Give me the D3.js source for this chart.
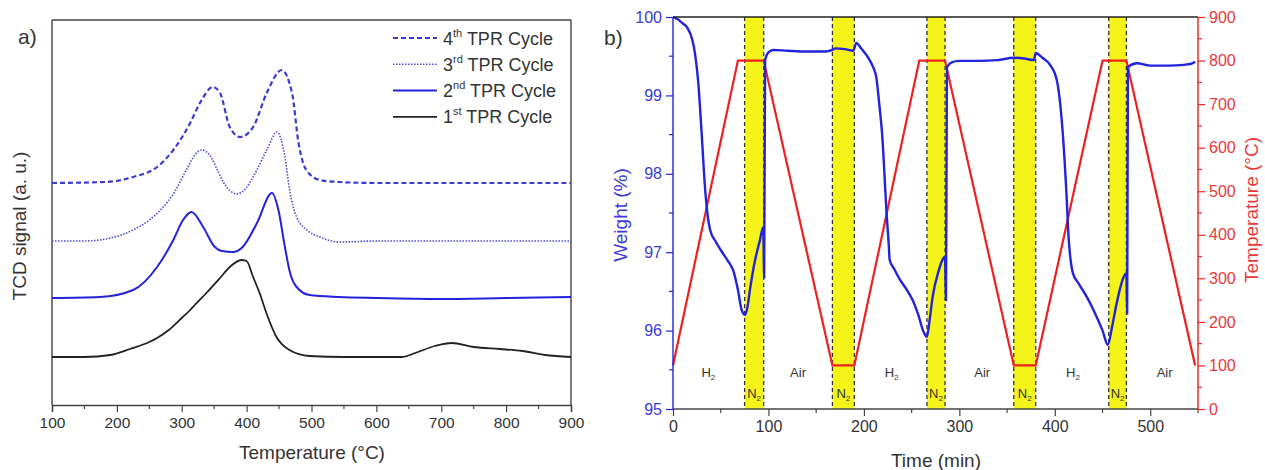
<!DOCTYPE html>
<html>
<head>
<meta charset="utf-8">
<script src="https://cdn.jsdelivr.net/npm/d3@7"></script>
<style>
  body { margin: 0; background: #fff; }
  text { font-family: "Liberation Sans", Arial, sans-serif; }
</style>
</head>
<body>
<div id="chart"></div>
<script>
// ---------- panel a data: TPR cycles (signal in arbitrary units) ----------
const tprTemps1 = [100,150,190,220,250,262,280,300,313,320,338,359,374,392,400,410,420,431,446,466,497,550,600,640,660,690,716,750,790,825,860,900];
const tprSignal1 = [48,48,50,56,63,67,75,87,95,100,112,127,138,145,144,128,112,91,68,55,49,48,48,48,52,59,62,58,56,54,50,48];

const tprTemps2 = [100,174,225,262,287,302,315,333,351,362,379,394,416,439,449,459,467,477,497,543,600,700,800,900];
const tprSignal2 = [107,108,115,138,165,185,193,178,158,154,153,158,182,212,195,158,132,118,110,108,107,106,107,108];

const tprTemps3 = [100,150,190,225,250,270,287,307,320,331,345,355,365,375,385,398,410,431,447,459,467,477,493,513,543,600,700,800,900];
const tprSignal3 = [164,164,167,175,185,197,211,235,250,255,248,235,222,214,211,216,228,255,273,248,212,188,175,168,163,164,164,164,164];

const tprTemps4 = [100,182,225,262,287,313,328,348,359,374,390,410,431,454,470,480,492,513,543,600,700,800,900];
const tprSignal4 = [222,223,228,238,255,282,302,318,312,278,268,278,312,335,312,262,235,225,223,222,222,222,222];

const cycleNames = ["4th TPR Cycle", "3rd TPR Cycle", "2nd TPR Cycle", "1st TPR Cycle"];

// ---------- panel b data: TGA weight and temperature programme ----------
const weightTime = [0,5,10,14.6,20,23,26.5,30,33.5,36,39,45,52,58,63,68,72,75.5,78,80.6,86,91,94.5,95.5,96.5,100,105,120,140,160,167,170,180,189,192,197,206,210,213,216,219,224,226,227,232,237.7,245,251,257,262,266,269,272,278,285,286,287,292,300,320,340,357,368,378,380,387,395,402,407,412.5,414,419,425,433.5,444,450,455.5,460,464,468,475,475.8,476.6,486,500,520,535,542,547];
const weightPct = [100,99.97,99.92,99.87,99.72,99.54,99.16,98.52,97.83,97.5,97.28,97.13,96.99,96.88,96.77,96.52,96.26,96.2,96.3,96.52,96.9,97.15,97.32,96.68,99.45,99.55,99.58,99.57,99.56,99.56,99.58,99.6,99.59,99.57,99.67,99.6,99.45,99.35,99.23,98.9,98.52,97.45,97.1,96.9,96.78,96.65,96.52,96.39,96.2,96.0,95.92,96.15,96.43,96.75,96.94,96.39,99.36,99.42,99.44,99.44,99.45,99.48,99.47,99.45,99.54,99.48,99.39,99.2,98.72,97.67,97.28,96.73,96.6,96.43,96.17,96.0,95.82,96.05,96.3,96.52,96.73,96.22,99.36,99.41,99.38,99.38,99.39,99.4,99.43];

const progTime = [0,68,95,167,190,258,285,357,380,450,475,547];
const progTemp = [100,800,800,100,100,800,800,100,100,800,800,100];

const n2Start = [75,167,266,357,456.5];
const n2End = [95,190,285,380,475];
const gasTimes = [37,131,229,324,419,515];
const gasNames = ["H", "Air", "H", "Air", "H", "Air"];

// ---------- layout ----------
const W = 1265, H = 470;
const svg = d3.select("#chart").append("svg").attr("width", W).attr("height", H);

const blue = "#2323dc";
const red = "#ee2020";
const axisGray = "#444";
const textGray = "#333";

function minorTicks(g, scale, values, orient, len, color) {
  g.selectAll(null).data(values).enter().append("line")
    .attr("x1", d => orient === "bottom" ? scale(d) : 0)
    .attr("x2", d => orient === "bottom" ? scale(d) : (orient === "left" ? -len : len))
    .attr("y1", d => orient === "bottom" ? 0 : scale(d))
    .attr("y2", d => orient === "bottom" ? len : scale(d))
    .attr("stroke", color).attr("stroke-width", 1.2);
}

// ===================== panel a =====================
const xa = d3.scaleLinear().domain([100, 900]).range([52, 571]);
const ya = d3.scaleLinear().domain([0, 385]).range([405, 20]);

const pa = svg.append("g");

const axA = pa.append("g").attr("transform", "translate(0,405)")
  .call(d3.axisBottom(xa).tickValues(d3.range(100, 901, 100)).tickSize(7).tickPadding(5).tickFormat(d3.format("d")));
axA.select(".domain").attr("stroke", axisGray).attr("stroke-width", 1.4);
axA.selectAll(".tick line").attr("stroke", axisGray).attr("stroke-width", 1.2);
axA.selectAll(".tick text").attr("fill", textGray).attr("font-size", 15.5);
minorTicks(axA, xa, d3.range(150, 900, 100), "bottom", 4, axisGray);

pa.append("line").attr("x1", 52).attr("x2", 52).attr("y1", 20).attr("y2", 405).attr("stroke", axisGray).attr("stroke-width", 1.4);
pa.append("line").attr("x1", 52).attr("x2", 571).attr("y1", 20).attr("y2", 20).attr("stroke", axisGray).attr("stroke-width", 1.4);
pa.append("line").attr("x1", 571).attr("x2", 571).attr("y1", 20).attr("y2", 405).attr("stroke", axisGray).attr("stroke-width", 1.4);

const lineA = d3.line().x(d => xa(d[0])).y(d => ya(d[1])).curve(d3.curveMonotoneX);

const cycles = [
  { t: tprTemps4, s: tprSignal4, color: "#3b3bd0", width: 2.2, dash: "5,3" },
  { t: tprTemps3, s: tprSignal3, color: "#4a4ad0", width: 1.6, dash: "1.5,1.5" },
  { t: tprTemps2, s: tprSignal2, color: blue, width: 2, dash: null },
  { t: tprTemps1, s: tprSignal1, color: "#222", width: 1.8, dash: null }
];

cycles.forEach(c => {
  pa.append("path")
    .datum(d3.zip(c.t, c.s))
    .attr("d", lineA)
    .attr("fill", "none")
    .attr("stroke", c.color)
    .attr("stroke-width", c.width)
    .attr("stroke-dasharray", c.dash);
});

// legend
const leg = pa.append("g");
cycles.forEach((c, i) => {
  const y = 38 + i * 26.3;
  leg.append("line").attr("x1", 393).attr("x2", 437).attr("y1", y).attr("y2", y)
    .attr("stroke", c.color).attr("stroke-width", c.width).attr("stroke-dasharray", c.dash);
  const name = cycleNames[i];
  const t = leg.append("text").attr("x", 443).attr("y", y + 6.5).attr("font-size", 18).attr("fill", textGray);
  t.append("tspan").text(name.slice(0, 1));
  t.append("tspan").text(name.slice(1, 3)).attr("font-size", 11).attr("dy", -8);
  t.append("tspan").text(name.slice(3)).attr("dy", 8);
});

pa.append("text").attr("x", 18).attr("y", 44).attr("font-size", 21).attr("fill", textGray).text("a)");
pa.append("text").attr("transform", "translate(26,226) rotate(-90)").attr("text-anchor", "middle")
  .attr("font-size", 19).attr("fill", textGray).text("TCD signal (a. u.)");
pa.append("text").attr("x", 312).attr("y", 459).attr("text-anchor", "middle")
  .attr("font-size", 19).attr("fill", textGray).text("Temperature (°C)");

// ===================== panel b =====================
const xb = d3.scaleLinear().domain([0, 550]).range([673, 1198]);
const yW = d3.scaleLinear().domain([95, 100]).range([409, 17]);
const yT = d3.scaleLinear().domain([0, 900]).range([409, 17]);

const pb = svg.append("g");

// N2 bands
const bands = d3.zip(n2Start, n2End);
pb.selectAll("rect.band").data(bands).enter().append("rect")
  .attr("x", d => xb(d[0])).attr("width", d => xb(d[1]) - xb(d[0]))
  .attr("y", 17).attr("height", 409 - 17)
  .attr("fill", "#f4f41a");
pb.selectAll("line.edge").data(n2Start.concat(n2End)).enter().append("line")
  .attr("x1", d => xb(d)).attr("x2", d => xb(d))
  .attr("y1", 17).attr("y2", 409)
  .attr("stroke", "#333").attr("stroke-width", 1.3).attr("stroke-dasharray", "4,3");

// gas labels
pb.selectAll("text.gas").data(d3.zip(gasTimes, gasNames)).enter().append("text")
  .attr("x", d => xb(d[0])).attr("y", 377).attr("text-anchor", "middle")
  .attr("font-size", 13).attr("fill", textGray)
  .each(function (d) {
    const t = d3.select(this);
    t.append("tspan").text(d[1]);
    if (d[1] === "H") t.append("tspan").text("2").attr("font-size", 8).attr("dy", 3);
  });
pb.selectAll("text.n2").data(bands).enter().append("text")
  .attr("x", d => xb((d[0] + d[1]) / 2)).attr("y", 398).attr("text-anchor", "middle")
  .attr("font-size", 13).attr("fill", textGray)
  .each(function () {
    const t = d3.select(this);
    t.append("tspan").text("N");
    t.append("tspan").text("2").attr("font-size", 8).attr("dy", 3);
  });

// temperature programme
pb.append("path")
  .datum(d3.zip(progTime, progTemp))
  .attr("d", d3.line().x(d => xb(d[0])).y(d => yT(d[1])))
  .attr("fill", "none").attr("stroke", red).attr("stroke-width", 2.2);

// weight
pb.append("path")
  .datum(d3.zip(weightTime, weightPct))
  .attr("d", d3.line().x(d => xb(d[0])).y(d => yW(d[1])).curve(d3.curveMonotoneX))
  .attr("fill", "none").attr("stroke", blue).attr("stroke-width", 2.4);

// axes
const axB = pb.append("g").attr("transform", "translate(0,409)")
  .call(d3.axisBottom(xb).tickValues(d3.range(0, 501, 100)).tickSize(7).tickPadding(5).tickFormat(d3.format("d")));
axB.select(".domain").remove();
axB.append("line").attr("x1", 673).attr("x2", 1198).attr("stroke", axisGray).attr("stroke-width", 1.4);
axB.selectAll(".tick line").attr("stroke", axisGray).attr("stroke-width", 1.2);
axB.selectAll(".tick text").attr("fill", textGray).attr("font-size", 16);
minorTicks(axB, xb, d3.range(50, 551, 100), "bottom", 4, axisGray);

pb.append("line").attr("x1", 673).attr("x2", 1198).attr("y1", 17).attr("y2", 17).attr("stroke", "#222").attr("stroke-width", 1.4);

const axL = pb.append("g").attr("transform", "translate(673,0)")
  .call(d3.axisLeft(yW).tickValues(d3.range(95, 100.1, 1)).tickSize(7).tickPadding(4).tickFormat(d3.format("d")));
axL.select(".domain").remove();
axL.append("line").attr("y1", 17).attr("y2", 409).attr("stroke", blue).attr("stroke-width", 1.4);
axL.selectAll(".tick line").attr("stroke", blue).attr("stroke-width", 1.2);
axL.selectAll(".tick text").attr("fill", "#3a3ad8").attr("font-size", 16);
minorTicks(axL, yW, d3.range(95.5, 100, 1), "left", 4, blue);

const axR = pb.append("g").attr("transform", "translate(1198,0)")
  .call(d3.axisRight(yT).tickValues(d3.range(0, 901, 100)).tickSize(7).tickPadding(4).tickFormat(d3.format("d")));
axR.select(".domain").remove();
axR.append("line").attr("y1", 17).attr("y2", 409).attr("stroke", red).attr("stroke-width", 1.4);
axR.selectAll(".tick line").attr("stroke", red).attr("stroke-width", 1.2);
axR.selectAll(".tick text").attr("fill", "#e83a3a").attr("font-size", 16);
minorTicks(axR, yT, d3.range(50, 900, 100), "right", 4, red);

pb.append("text").attr("x", 604).attr("y", 45).attr("font-size", 21).attr("fill", textGray).text("b)");
pb.append("text").attr("transform", "translate(627,215) rotate(-90)").attr("text-anchor", "middle")
  .attr("font-size", 19).attr("fill", "#3a3ad8").text("Weight (%)");
pb.append("text").attr("transform", "translate(1258,210) rotate(-90)").attr("text-anchor", "middle")
  .attr("font-size", 19).attr("fill", "#e83a3a").text("Temperature (°C)");
pb.append("text").attr("x", 936).attr("y", 467).attr("text-anchor", "middle")
  .attr("font-size", 19).attr("fill", textGray).text("Time (min)");
</script>
</body>
</html>
